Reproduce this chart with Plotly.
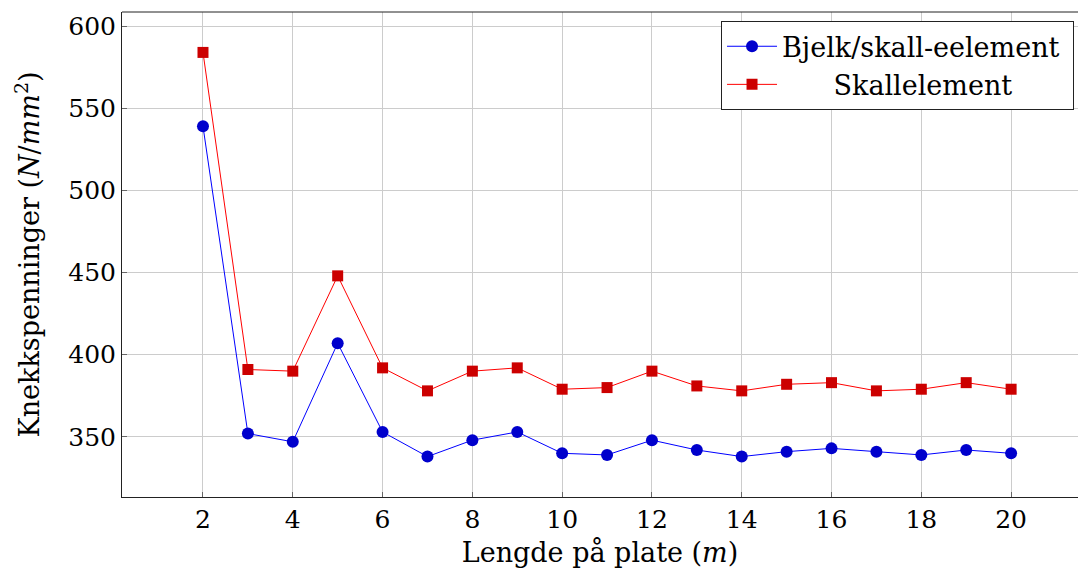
import plotly.graph_objects as go

lengths = list(range(2, 21))
bjelk_skall = [539, 352, 347, 407, 353, 338, 348, 353, 340, 339, 348, 342, 338, 341, 343, 341, 339, 342, 340]
skall = [584, 391, 390, 448, 392, 378, 390, 392, 379, 380, 390, 381, 378, 382, 383, 378, 379, 383, 379]
x_ticks = list(range(2, 21, 2))
y_ticks = [350, 400, 450, 500, 550, 600]

FONT = "DejaVu Serif"
FS_TICK = 25
FS_TEXT = 27

fig = go.Figure()
fig.add_trace(go.Scatter(
    x=lengths, y=bjelk_skall, mode="lines+markers", name="Bjelk/skall-eelement&nbsp;",
    line=dict(color="#0000ff", width=1),
    marker=dict(symbol="circle", size=12, color="#0000cc", line=dict(width=0)),
))
fig.add_trace(go.Scatter(
    x=lengths, y=skall, mode="lines+markers",
    name="&nbsp;&nbsp;&nbsp;&nbsp;&nbsp;&nbsp;Skallelement",
    line=dict(color="#ff0000", width=1),
    marker=dict(symbol="square", size=11, color="#cc0000", line=dict(width=0)),
))

axis_common = dict(
    showgrid=True, gridcolor="#cccccc", gridwidth=1,
    ticks="inside", ticklen=5, tickcolor="#666666",
    showline=True, linecolor="#222222", linewidth=1,
    zeroline=False,
    tickfont=dict(family=FONT, size=FS_TICK, color="black"),
)

fig.update_layout(
    width=1078, height=578,
    paper_bgcolor="white", plot_bgcolor="white",
    margin=dict(l=122, r=0, t=12, b=81),
    font=dict(family=FONT, color="black"),
    xaxis=dict(
        range=[0.196, 21.49], tickvals=x_ticks,
        title=dict(text="Lengde på plate (<i>m</i>)", font=dict(family=FONT, size=FS_TEXT), standoff=10),
        **axis_common,
    ),
    yaxis=dict(
        range=[313.4, 608.6], tickvals=y_ticks,
        title=dict(text="Knekkspenninger (<i>N</i>/<i>mm</i><sup>2</sup>)", font=dict(family=FONT, size=FS_TEXT), standoff=20),
        **axis_common,
    ),
    legend=dict(
        x=0.6266, y=0.981, xanchor="left", yanchor="top",
        bgcolor="white", bordercolor="#222222", borderwidth=1,
        font=dict(family=FONT, size=FS_TEXT, color="black"),
        itemwidth=50, tracegroupgap=0,
    ),
    showlegend=True,
)

# top frame line
fig.add_shape(type="line", xref="paper", yref="paper", x0=0, x1=1, y0=1, y1=1,
              line=dict(color="#222222", width=1))

fig.write_html(
    "out.html",
    config={"displayModeBar": False},
    post_script="document.body.style.margin='0';document.body.style.overflow='hidden';",
)
